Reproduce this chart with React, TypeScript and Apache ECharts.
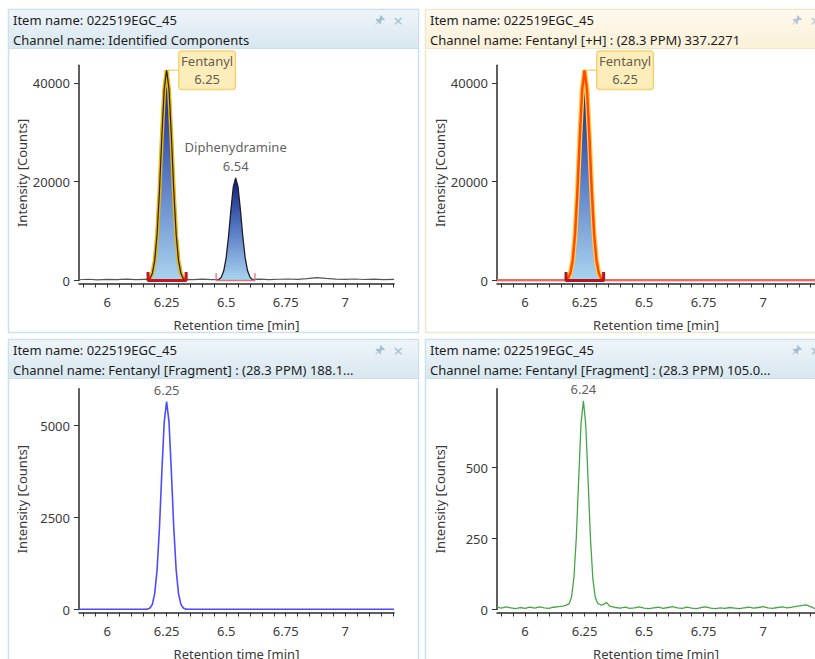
import React, { useEffect, useRef } from "react";
import * as echarts from "echarts";

const FONT = "'Noto Sans', 'DejaVu Sans', sans-serif";

// ---------- texts ----------
const itemName = "Item name: 022519EGC_45";
const channelNames = [
  "Channel name: Identified Components",
  "Channel name: Fentanyl [+H] : (28.3 PPM) 337.2271",
  "Channel name: Fentanyl [Fragment] : (28.3 PPM) 188.1...",
  "Channel name: Fentanyl [Fragment] : (28.3 PPM) 105.0...",
];
const xAxisTitle = "Retention time [min]";
const yAxisTitle = "Intensity [Counts]";

// ---------- ticks ----------
const xTickValues = [
  5.9, 5.95, 6, 6.05, 6.1, 6.15, 6.2, 6.25, 6.3, 6.35, 6.4, 6.45, 6.5, 6.55,
  6.6, 6.65, 6.7, 6.75, 6.8, 6.85, 6.9, 6.95, 7, 7.05, 7.1, 7.15, 7.2,
];
const xLabelValues = [6, 6.25, 6.5, 6.75, 7];
const yLabelsIdentified = [0, 20000, 40000];
const yLabelsFrag188 = [0, 2500, 5000];
const yLabelsFrag105 = [0, 250, 500];

// ---------- peak annotations ----------
const peakNames = ["Fentanyl", "Diphenydramine"];
const peakTimesIdentified = ["6.25", "6.54"];
const peakTimeFrag188 = "6.25";
const peakTimeFrag105 = "6.24";

// ---------- data: panel 1 (Identified Components) ----------
const p1Baseline: [number, number][] = [
  [5.882, 150], [5.92, 250], [5.96, 120], [6.0, 220], [6.04, 160], [6.08, 260],
  [6.12, 180], [6.16, 240], [6.2, 200], [6.24, 230], [6.28, 190], [6.32, 220],
  [6.36, 180], [6.4, 260], [6.44, 170], [6.48, 230], [6.52, 200], [6.56, 210],
  [6.6, 200], [6.64, 260], [6.68, 180], [6.72, 250], [6.76, 300], [6.8, 240],
  [6.84, 380], [6.88, 600], [6.92, 420], [6.96, 280], [7.0, 220], [7.04, 300],
  [7.08, 200], [7.12, 260], [7.16, 180], [7.205, 240],
];
const p1Fentanyl: [number, number][] = [
  [6.17, 100], [6.18, 415], [6.19, 1420], [6.2, 4010], [6.21, 9380],
  [6.22, 18200], [6.23, 29200], [6.24, 38750], [6.25, 42600], [6.26, 38750],
  [6.27, 29200], [6.28, 18200], [6.29, 9380], [6.3, 4010], [6.31, 1420],
  [6.32, 415], [6.33, 100],
];
const p1Diphenhydramine: [number, number][] = [
  [6.46, 50], [6.47, 200], [6.48, 690], [6.49, 1960], [6.5, 4580],
  [6.51, 8880], [6.52, 14250], [6.53, 18930], [6.54, 20800], [6.55, 18930],
  [6.56, 14250], [6.57, 8880], [6.58, 4580], [6.59, 1960], [6.6, 690],
  [6.61, 200], [6.62, 50],
];
const p1FentanylIntegration: [number, number][] = [
  [6.172, 1700], [6.172, 0], [6.332, 0], [6.332, 1700],
];
const p1DiphenIntegration: [number, number][] = [
  [6.458, 1500], [6.458, 0], [6.621, 0], [6.621, 1500],
];

// ---------- data: panel 2 (Fentanyl [+H]) ----------
const p2Baseline: [number, number][] = [
  [5.882, 60], [6.1, 60], [6.17, 60], [6.33, 60], [6.6, 60], [7.0, 60], [7.218, 60],
];
const p2Fentanyl: [number, number][] = [
  [6.17, 100], [6.18, 415], [6.19, 1420], [6.2, 4010], [6.21, 9380],
  [6.22, 18200], [6.23, 29200], [6.24, 38750], [6.25, 42600], [6.26, 38750],
  [6.27, 29200], [6.28, 18200], [6.29, 9380], [6.3, 4010], [6.31, 1420],
  [6.32, 415], [6.33, 100],
];
const p2FentanylIntegration: [number, number][] = [
  [6.172, 1700], [6.172, 0], [6.33, 0], [6.33, 1700],
];

// ---------- data: panel 3 (Fragment 188.1) ----------
const p3Trace: [number, number][] = [
  [5.882, 6], [6.0, 6], [6.1, 6], [6.16, 6], [6.17, 10], [6.18, 40], [6.19, 140],
  [6.2, 430], [6.21, 1080], [6.22, 2230], [6.23, 3735], [6.24, 5100],
  [6.25, 5650], [6.26, 5100], [6.27, 3735], [6.28, 2230], [6.29, 1080],
  [6.3, 430], [6.31, 140], [6.32, 40], [6.33, 10], [6.34, 6], [6.5, 6],
  [6.7, 6], [7.0, 6], [7.205, 6],
];

// ---------- data: panel 4 (Fragment 105.0) ----------
const p4Trace: [number, number][] = [
  [5.882, 8], [5.9, 5], [5.92, 9], [5.94, 6], [5.96, 3], [5.98, 7], [6.0, 4],
  [6.02, 8], [6.04, 5], [6.06, 9], [6.08, 6], [6.1, 4], [6.12, 8], [6.14, 10],
  [6.16, 12], [6.175, 16], [6.185, 20], [6.195, 44], [6.205, 110], [6.215, 250],
  [6.225, 455], [6.235, 655], [6.245, 735], [6.255, 650], [6.265, 450],
  [6.275, 245], [6.285, 105], [6.295, 42], [6.305, 22], [6.32, 15], [6.333, 20],
  [6.343, 24], [6.355, 12], [6.37, 9], [6.38, 7], [6.4, 5], [6.42, 8], [6.44, 4],
  [6.46, 6], [6.48, 9], [6.5, 5], [6.52, 3], [6.54, 6], [6.56, 8], [6.58, 4],
  [6.6, 7], [6.62, 10], [6.64, 6], [6.66, 4], [6.68, 8], [6.7, 5], [6.72, 3],
  [6.74, 7], [6.76, 9], [6.78, 5], [6.8, 3], [6.82, 6], [6.84, 4], [6.86, 7],
  [6.88, 5], [6.9, 3], [6.92, 6], [6.94, 8], [6.96, 5], [6.98, 7], [7.0, 10],
  [7.02, 6], [7.04, 4], [7.06, 7], [7.08, 9], [7.1, 6], [7.12, 8], [7.14, 11],
  [7.16, 14], [7.18, 16], [7.2, 10], [7.218, 3],
];

// ---------- pin icon ----------
const PIN_D =
  "M5.5 0 L10 4.5 L9 5.2 L7.6 4.8 L5.8 6.8 L6.2 8.6 L5.4 9.4 L3.3 7.3 L0.8 9.8 L0.2 9.2 L2.7 6.7 L0.6 4.6 L1.4 3.8 L3.2 4.2 L5.2 2.4 L4.8 1 Z";
let pinRegistered = false;
function registerPin() {
  if (pinRegistered) return;
  echarts.graphic.registerShape("pin", echarts.graphic.extendPath(PIN_D, {}));
  pinRegistered = true;
}

type Panel = { x: number; y: number; w: number; h: number; theme: "blue" | "yellow"; channel: string };

function panelGraphics(p: Panel) {
  const blue = p.theme === "blue";
  const border = blue ? "#cbe0ed" : "#f0e7cb";
  const top = blue ? "#eef5f9" : "#fdf9ee";
  const bottom = blue ? "#d8e7ef" : "#fbf1d8";
  const iconColor = blue ? "#a4bfd3" : "#b6c6d6";
  return [
    {
      type: "rect",
      z: 0,
      shape: { x: p.x + 0.5, y: p.y + 0.5, width: p.w, height: p.h },
      style: { fill: "#ffffff", stroke: border, lineWidth: 1.5 },
    },
    {
      type: "rect",
      z: 1,
      shape: { x: p.x + 0.5, y: p.y + 0.5, width: p.w, height: 39 },
      style: {
        fill: new echarts.graphic.LinearGradient(0, 0, 0, 1, [
          { offset: 0, color: top },
          { offset: 1, color: bottom },
        ]),
        stroke: border,
        lineWidth: 1,
      },
    },
    {
      type: "text",
      z: 2,
      x: p.x + 5,
      y: p.y + 11,
      style: { text: itemName, fill: "#1c1c1c", fontSize: 13, fontFamily: FONT, verticalAlign: "middle" },
    },
    {
      type: "text",
      z: 2,
      x: p.x + 5,
      y: p.y + 31,
      style: { text: p.channel, fill: "#1c1c1c", fontSize: 13, fontFamily: FONT, verticalAlign: "middle" },
    },
    {
      type: "pin",
      z: 2,
      x: p.x + 367,
      y: p.y + 6,
      style: { fill: iconColor },
    },
    {
      type: "text",
      z: 2,
      x: p.x + 390,
      y: p.y + 11,
      style: { text: "×", fill: iconColor, fontSize: 17, fontFamily: FONT, align: "center", verticalAlign: "middle" },
    },
  ];
}

const axisText = { color: "#3a3a3a", fontSize: 13, fontFamily: FONT };

function makeX(gridIndex: number, min: number, max: number) {
  return {
    type: "value",
    gridIndex,
    min,
    max,
    offset: 3,
    axisLine: { show: true, onZero: false, lineStyle: { color: "#2a2a2a", width: 1.5 } },
    axisTick: { show: true, customValues: xTickValues, length: 4, lineStyle: { color: "#333", width: 1 } },
    axisLabel: { show: true, customValues: xLabelValues, margin: 12, formatter: (v: number) => String(v), ...axisText },
    splitLine: { show: false },
    name: xAxisTitle,
    nameLocation: "middle",
    nameGap: 35,
    nameMoveOverlap: false,
    nameTextStyle: { ...axisText },
  };
}

function makeY(gridIndex: number, max: number, labels: number[]) {
  return {
    type: "value",
    gridIndex,
    min: 0,
    max,
    axisLine: { show: true, lineStyle: { color: "#2a2a2a", width: 1.5 } },
    axisTick: { show: true, customValues: labels, length: 5, lineStyle: { color: "#333", width: 1 } },
    axisLabel: { show: true, customValues: labels, margin: 9, formatter: (v: number) => String(v), ...axisText },
    splitLine: { show: false },
    name: yAxisTitle,
    nameLocation: "middle",
    nameGap: 51,
    nameMoveOverlap: false,
    nameTextStyle: { ...axisText },
  };
}

const peakFill = () =>
  new echarts.graphic.LinearGradient(0, 0, 0, 1, [
    { offset: 0, color: "#0e1a78" },
    { offset: 0.45, color: "#4f70bf" },
    { offset: 1, color: "#a9d4ef" },
  ]);

const apex = (d: [number, number][]) => d.reduce((a, b) => (b[1] > a[1] ? b : a));

export default function App() {
  const ref = useRef<HTMLDivElement>(null);

  useEffect(() => {
    if (!ref.current) return;
    registerPin();
    const chart = echarts.init(ref.current, null, { renderer: "svg" });

    const panels: Panel[] = [
      { x: 8, y: 9, w: 410, h: 323, theme: "blue", channel: channelNames[0] },
      { x: 425, y: 9, w: 400, h: 323, theme: "yellow", channel: channelNames[1] },
      { x: 8, y: 339, w: 410, h: 340, theme: "blue", channel: channelNames[2] },
      { x: 425, y: 339, w: 400, h: 340, theme: "blue", channel: channelNames[3] },
    ];

    const fApex1 = apex(p1Fentanyl);
    const dApex1 = apex(p1Diphenhydramine);
    const fApex2 = apex(p2Fentanyl);
    const apex3 = apex(p3Trace);
    const apex4 = apex(p4Trace);

    const callout = {
      show: true,
      position: "right",
      distance: 12,
      backgroundColor: "#fde9aa",
      borderColor: "#f1c142",
      borderWidth: 1,
      borderRadius: 3,
      padding: [1, 6, 1, 6],
      rich: {
        a: { width: 44, align: "center", fontSize: 13, lineHeight: 18, color: "#333", fontFamily: FONT },
      },
    };

    const hidden = { symbolSize: 1, itemStyle: { color: "rgba(0,0,0,0)" }, silent: true };

    const option: any = {
      animation: false,
      backgroundColor: "#ffffff",
      textStyle: { fontFamily: FONT },
      graphic: { elements: panels.flatMap(panelGraphics) },
      grid: [
        { left: 79, top: 65.2, width: 315, height: 215.3, outerBoundsMode: "none" },
        { left: 497, top: 65.2, width: 318, height: 215.3, outerBoundsMode: "none" },
        { left: 79, top: 388.7, width: 315, height: 220.8, outerBoundsMode: "none" },
        { left: 497, top: 388.7, width: 318, height: 220.8, outerBoundsMode: "none" },
      ],
      xAxis: [
        makeX(0, 5.882, 7.205),
        makeX(1, 5.882, 7.218),
        makeX(2, 5.882, 7.205),
        makeX(3, 5.882, 7.218),
      ],
      yAxis: [
        makeY(0, 43600, yLabelsIdentified),
        makeY(1, 43600, yLabelsIdentified),
        makeY(2, 6000, yLabelsFrag188),
        makeY(3, 778, yLabelsFrag105),
      ],
      series: [
        // panel 1
        { type: "line", xAxisIndex: 0, yAxisIndex: 0, data: p1Baseline, symbol: "none", lineStyle: { color: "#555", width: 1.2 }, z: 2 },
        {
          type: "line", xAxisIndex: 0, yAxisIndex: 0, data: p1Fentanyl, symbol: "none",
          lineStyle: { color: "#e6b619", width: 4 }, areaStyle: { color: peakFill(), opacity: 1 }, z: 3,
        },
        { type: "line", xAxisIndex: 0, yAxisIndex: 0, data: p1Fentanyl, symbol: "none", lineStyle: { color: "#2b2306", width: 1.2 }, z: 4 },
        {
          type: "line", xAxisIndex: 0, yAxisIndex: 0, data: p1Diphenhydramine, symbol: "none",
          lineStyle: { color: "#1e1e28", width: 1.3 }, areaStyle: { color: peakFill(), opacity: 1 }, z: 3,
        },
        { type: "line", xAxisIndex: 0, yAxisIndex: 0, data: p1FentanylIntegration, symbol: "none", clip: false, lineStyle: { color: "#c4141f", width: 3 }, z: 5 },
        { type: "line", xAxisIndex: 0, yAxisIndex: 0, data: p1DiphenIntegration, symbol: "none", clip: false, lineStyle: { color: "#e27080", width: 1.3 }, z: 5 },
        { type: "line", xAxisIndex: 0, yAxisIndex: 0, data: [fApex1, [fApex1[0] + 0.05, fApex1[1]]], symbol: "none", lineStyle: { color: "#f0c040", width: 1 }, z: 5 },
        {
          type: "scatter", xAxisIndex: 0, yAxisIndex: 0, data: [fApex1], ...hidden, z: 6,
          label: { ...callout, formatter: `{a|${peakNames[0]}}\n{a|${peakTimesIdentified[0]}}` },
        },
        {
          type: "scatter", xAxisIndex: 0, yAxisIndex: 0, data: [dApex1], ...hidden, z: 6,
          label: {
            show: true, position: "top", distance: 2, formatter: `${peakNames[1]}\n${peakTimesIdentified[1]}`,
            lineHeight: 19, align: "center", ...axisText, color: "#333",
          },
        },
        // panel 2
        { type: "line", xAxisIndex: 1, yAxisIndex: 1, data: p2Baseline, symbol: "none", lineStyle: { color: "#f06862", width: 2.5 }, z: 2 },
        {
          type: "line", xAxisIndex: 1, yAxisIndex: 1, data: p2Fentanyl, symbol: "none",
          lineStyle: { color: "#ffcf45", width: 5 }, areaStyle: { color: peakFill(), opacity: 1 }, z: 3,
        },
        { type: "line", xAxisIndex: 1, yAxisIndex: 1, data: p2Fentanyl, symbol: "none", lineStyle: { color: "#ff4a0a", width: 2.5 }, z: 4 },
        { type: "line", xAxisIndex: 1, yAxisIndex: 1, data: p2FentanylIntegration, symbol: "none", clip: false, lineStyle: { color: "#b3141f", width: 3 }, z: 5 },
        { type: "line", xAxisIndex: 1, yAxisIndex: 1, data: [fApex2, [fApex2[0] + 0.05, fApex2[1]]], symbol: "none", lineStyle: { color: "#f0c040", width: 1 }, z: 5 },
        {
          type: "scatter", xAxisIndex: 1, yAxisIndex: 1, data: [fApex2], ...hidden, z: 6,
          label: { ...callout, formatter: `{a|${peakNames[0]}}\n{a|${peakTimesIdentified[0]}}` },
        },
        // panel 3
        { type: "line", xAxisIndex: 2, yAxisIndex: 2, data: p3Trace, symbol: "none", lineStyle: { color: "#4b4bff", width: 1.6 }, z: 3 },
        {
          type: "scatter", xAxisIndex: 2, yAxisIndex: 2, data: [apex3], ...hidden, z: 6,
          label: { show: true, position: "top", distance: 3, formatter: peakTimeFrag188, lineHeight: 16, ...axisText, color: "#333" },
        },
        // panel 4
        { type: "line", xAxisIndex: 3, yAxisIndex: 3, data: p4Trace, symbol: "none", lineStyle: { color: "#45a645", width: 1.3 }, z: 3 },
        {
          type: "scatter", xAxisIndex: 3, yAxisIndex: 3, data: [apex4], ...hidden, z: 6,
          label: { show: true, position: "top", distance: 3, formatter: peakTimeFrag105, lineHeight: 16, ...axisText, color: "#333" },
        },
      ],
    };

    chart.setOption(option);
    return () => chart.dispose();
  }, []);

  return (
    <div
      ref={ref}
      style={{ position: "absolute", left: 0, top: 0, width: 815, height: 659, background: "#fff" }}
    />
  );
}
